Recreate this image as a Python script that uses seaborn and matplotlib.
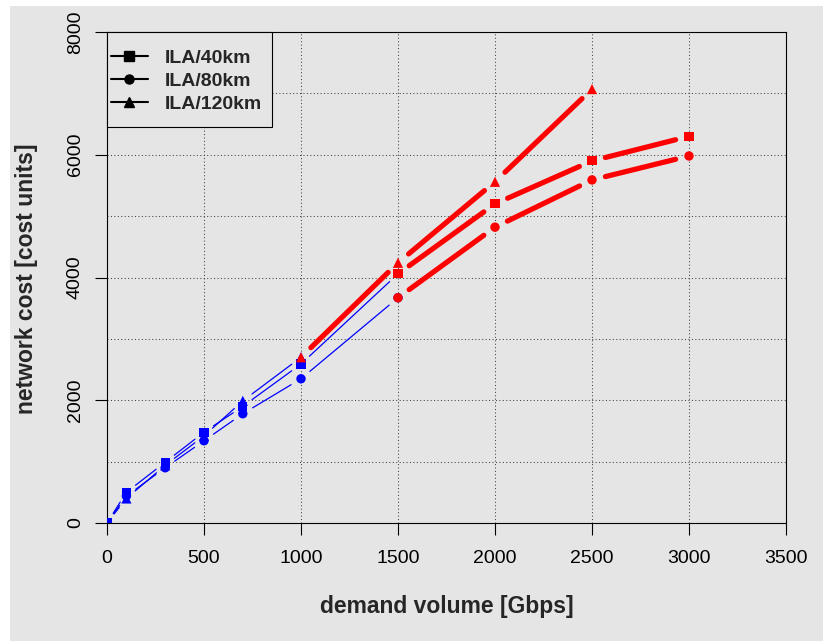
import numpy as np
import pandas as pd
import matplotlib
matplotlib.use("Agg")
import matplotlib.pyplot as plt
from matplotlib.patches import Rectangle
from matplotlib.lines import Line2D
import seaborn as sns

# ---------------- data ----------------
series_names = ["ILA/40km", "ILA/80km", "ILA/120km"]

low_demand_40 = [0, 100, 300, 500, 700, 1000, 1500]
low_cost_40 = [0, 500, 990, 1480, 1900, 2590, 4060]
low_demand_80 = [0, 100, 300, 500, 700, 1000, 1500]
low_cost_80 = [0, 440, 900, 1340, 1780, 2350, 3670]
low_demand_120 = [0, 100, 300, 500, 700, 1000]
low_cost_120 = [0, 400, 940, 1420, 1990, 2700]

high_demand_40 = [1500, 2000, 2500, 3000]
high_cost_40 = [4060, 5200, 5900, 6300]
high_demand_80 = [1500, 2000, 2500, 3000]
high_cost_80 = [3670, 4820, 5590, 5980]
high_demand_120 = [1000, 1500, 2000, 2500]
high_cost_120 = [2700, 4240, 5560, 7070]

x_ticks = [0, 500, 1000, 1500, 2000, 2500, 3000, 3500]
y_ticks = [0, 2000, 4000, 6000, 8000]
x_grid = [500, 1000, 1500, 2000, 2500, 3000]
y_grid = [1000, 2000, 3000, 4000, 5000, 6000, 7000]

x_label = "demand volume [Gbps]"
y_label = "network cost [cost units]"

# ---------------- styles ----------------
BG = "#e5e5e5"
LOW_COLOR = "#0000ff"
HIGH_COLOR = "#ff0000"
markers = {"ILA/40km": "s", "ILA/80km": "o", "ILA/120km": "^"}
sizes = {"ILA/40km": 44, "ILA/80km": 46, "ILA/120km": 54}

sns.set_style("ticks")
plt.rcParams["font.family"] = ["Liberation Sans", "DejaVu Sans"]

low = [(low_demand_40, low_cost_40), (low_demand_80, low_cost_80), (low_demand_120, low_cost_120)]
high = [(high_demand_40, high_cost_40), (high_demand_80, high_cost_80), (high_demand_120, high_cost_120)]

rows = []
for regime, groups in (("low", low), ("high", high)):
    for name, (xs, ys) in zip(series_names, groups):
        for xv, yv in zip(xs, ys):
            rows.append({"demand": xv, "cost": yv, "series": name, "regime": regime})
df = pd.DataFrame(rows)

W, H = 823, 641
fig = plt.figure(figsize=(W / 100, H / 100), dpi=100, facecolor="white")
bg_ax = fig.add_axes([10 / W, 0, (W - 10) / W, (H - 6) / H], zorder=-10)
bg_ax.set_facecolor(BG)
bg_ax.set_xticks([])
bg_ax.set_yticks([])
for s in bg_ax.spines.values():
    s.set_visible(False)

ax = fig.add_axes([107 / W, (H - 523) / H, 679 / W, 491 / H])
ax.set_facecolor(BG)
ax.set_xlim(0, 3500)
ax.set_ylim(0, 8000)
fig.canvas.draw()

for xv in x_grid:
    ax.axvline(xv, color="#444444", lw=0.75, ls=(0, (1, 2.3)), zorder=1)
for yv in y_grid:
    ax.axhline(yv, color="#444444", lw=0.75, ls=(0, (1, 2.3)), zorder=1)


def gapped(xs, ys, color, lw, gap_px):
    T = ax.transData
    pts = T.transform(np.column_stack([xs, ys]))
    inv = T.inverted()
    for p0, p1 in zip(pts[:-1], pts[1:]):
        d = p1 - p0
        L = np.hypot(d[0], d[1])
        if L <= 2 * gap_px:
            continue
        u = d / L
        q = inv.transform(np.vstack([p0 + u * gap_px, p1 - u * gap_px]))
        ax.plot(q[:, 0], q[:, 1], color=color, lw=lw,
                solid_capstyle="round", zorder=2)


for xs, ys in low:
    gapped(xs, ys, LOW_COLOR, 0.9, 11.5)
for xs, ys in high:
    gapped(xs, ys, HIGH_COLOR, 3.75, 13.8)

sns.scatterplot(data=df, x="demand", y="cost", hue="regime", style="series",
                size="series", sizes=sizes, markers=markers,
                palette={"low": LOW_COLOR, "high": HIGH_COLOR},
                linewidth=0, legend=False, ax=ax, zorder=3)
ax.set_xlim(0, 3500)
ax.set_ylim(0, 8000)

ax.set_xticks(x_ticks)
ax.set_xticklabels([str(v) for v in x_ticks])
ax.set_yticks(y_ticks)
ax.set_yticklabels([str(v) for v in y_ticks], rotation=90, va="center")
ax.tick_params(axis="both", direction="out", length=8.6, width=0.8,
               colors="black", labelsize=14)
ax.tick_params(axis="x", pad=11)
ax.tick_params(axis="y", pad=8)
for s in ax.spines.values():
    s.set_visible(True)
    s.set_color("black")
    s.set_linewidth(0.8)

ax.set_xlabel(x_label, fontsize=16.5, fontweight="bold", va="center")
ax.set_ylabel(y_label, fontsize=16.5, fontweight="bold", va="center")
ax.xaxis.set_label_coords(0.5, (523 - 606) / 491)
ax.yaxis.set_label_coords((27 - 107) / 679, (523 - 279) / 491)

# legend
ax.add_patch(Rectangle((0, 1 - 95 / 491), 165 / 679, 95 / 491,
                       transform=ax.transAxes, facecolor=BG,
                       edgecolor="black", lw=0.8, zorder=4, clip_on=False))
handles = [Line2D([], [], color="black", lw=1.5, marker=markers[n],
                  markersize=6.5) for n in series_names]
leg = ax.legend(handles, series_names, loc="upper left",
                bbox_to_anchor=(4 / 679, 1 - 17 / 491), borderaxespad=0,
                borderpad=0, frameon=False, handlelength=1.9,
                handletextpad=0.87, labelspacing=0.29,
                prop={"weight": "bold", "size": 14})
leg.set_zorder(5)

fig.savefig("out.png", dpi=100, facecolor=fig.get_facecolor())
